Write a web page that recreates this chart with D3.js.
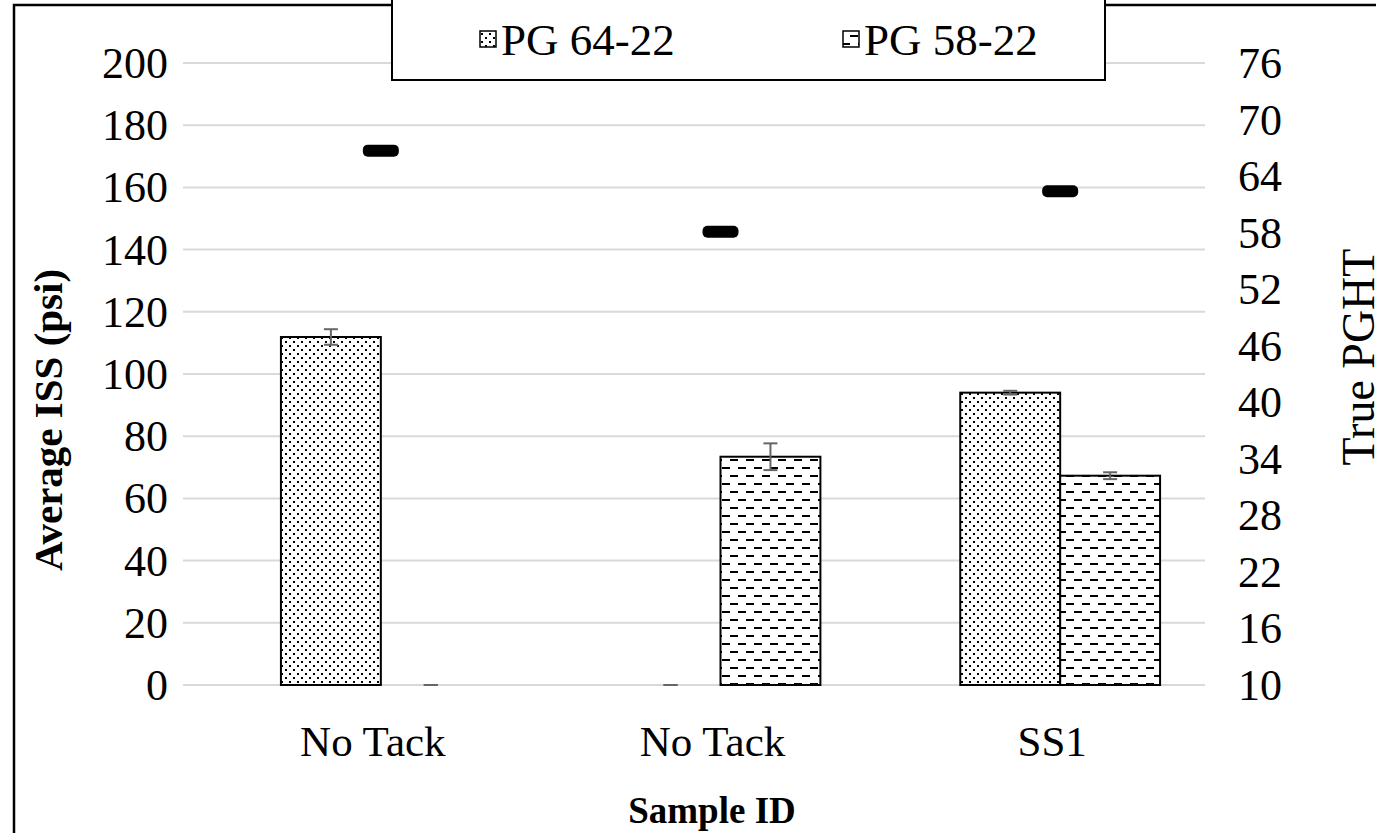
<!DOCTYPE html>
<html>
<head>
<meta charset="utf-8">
<script src="https://cdn.jsdelivr.net/npm/d3@7"></script>
<style>
  html, body { margin: 0; padding: 0; background: #fff; }
  svg { display: block; font-family: "Liberation Serif", "Times New Roman", serif; }
</style>
</head>
<body>
<svg id="chart" width="1376" height="833"></svg>
<script>
// Sample categories and the two binder series (ISS, psi)
const categories = ["No Tack", "No Tack", "SS1"];
const seriesNames = ["PG 64-22", "PG 58-22"];
const pg6422 = [111.9, 0, 94.0];
const pg5822 = [0, 73.4, 67.3];
const pg6422Err = [2.5, 0, 0.6];
const pg5822Err = [0, 4.3, 1.1];
// True PGHT (secondary axis)
const truePGHT = [66.7, 58.1, 62.4];
// Axis ticks
const leftTicks = [0, 20, 40, 60, 80, 100, 120, 140, 160, 180, 200];
const rightTicks = [10, 16, 22, 28, 34, 40, 46, 52, 58, 64, 70, 76];

const svg = d3.select("#chart");
const W = 1376, H = 833;
const plot = { left: 183, right: 1205, top: 63, bottom: 685 };
const serif = "Liberation Serif";

// patterns: dotted fill and dashed-horizontal fill
const defs = svg.append("defs");
const dots = defs.append("pattern").attr("id", "dots").attr("patternUnits", "userSpaceOnUse")
  .attr("width", 8).attr("height", 8);
dots.append("rect").attr("width", 8).attr("height", 8).attr("fill", "#fff");
dots.append("rect").attr("x", 1).attr("y", 1).attr("width", 2).attr("height", 2).attr("fill", "#000");
dots.append("rect").attr("x", 5).attr("y", 5).attr("width", 2).attr("height", 2).attr("fill", "#000");

const dashes = defs.append("pattern").attr("id", "dashes").attr("patternUnits", "userSpaceOnUse")
  .attr("width", 16).attr("height", 16);
dashes.append("rect").attr("width", 16).attr("height", 16).attr("fill", "#fff");
dashes.append("rect").attr("x", 2).attr("y", 3).attr("width", 8).attr("height", 2).attr("fill", "#000");
dashes.append("rect").attr("x", 10).attr("y", 11).attr("width", 8).attr("height", 2).attr("fill", "#000");
dashes.append("rect").attr("x", -6).attr("y", 11).attr("width", 8).attr("height", 2).attr("fill", "#000");

const fills = ["url(#dots)", "url(#dashes)"];

// scales
const y = d3.scaleLinear().domain([0, 200]).range([plot.bottom, plot.top]);
const y2 = d3.scaleLinear().domain([10, 76]).range([plot.bottom, plot.top]);
const x = d3.scaleBand().domain(d3.range(categories.length)).range([211, 1230]);
const xs = d3.scaleBand().domain(d3.range(seriesNames.length))
  .range([0, x.bandwidth()]).paddingOuter(0.7);

// outer frame
svg.append("rect").attr("x", 14).attr("y", 5).attr("width", W + 10).attr("height", H + 10)
  .attr("fill", "none").attr("stroke", "#000").attr("stroke-width", 2.5);

// gridlines
svg.append("g").selectAll("line").data(leftTicks).join("line")
  .attr("x1", plot.left).attr("x2", plot.right)
  .attr("y1", d => y(d)).attr("y2", d => y(d))
  .attr("stroke", "#d9d9d9").attr("stroke-width", 2);

// left axis labels
const leftAxis = d3.axisLeft(y).tickValues(leftTicks).tickSize(0).tickPadding(0);
const gl = svg.append("g").attr("transform", `translate(168,0)`).call(leftAxis);
gl.attr("font-family", serif).attr("font-size", 44);
gl.select(".domain").remove();
gl.selectAll("text").attr("fill", "#000").attr("dy", "0.33em");

// right axis labels
const rightAxis = d3.axisRight(y2).tickValues(rightTicks).tickSize(0).tickPadding(0);
const gr = svg.append("g").attr("transform", `translate(1238,0)`).call(rightAxis);
gr.attr("font-family", serif).attr("font-size", 44);
gr.select(".domain").remove();
gr.selectAll("text").attr("fill", "#000").attr("dy", "0.33em");

// bars
const seriesVals = [pg6422, pg5822];
const seriesErr = [pg6422Err, pg5822Err];
const barsG = svg.append("g");
seriesVals.forEach((vals, s) => {
  barsG.append("g").selectAll("rect").data(vals.map((v, i) => ({ v, i }))).join("rect")
    .filter(d => d.v > 0)
    .attr("x", d => x(d.i) + xs(s))
    .attr("width", xs.bandwidth())
    .attr("y", d => y(d.v))
    .attr("height", d => y(0) - y(d.v))
    .attr("fill", fills[s])
    .attr("stroke", "#000").attr("stroke-width", 2);
});

// error bars
const errG = svg.append("g").attr("stroke", "#666").attr("stroke-width", 2);
seriesVals.forEach((vals, s) => {
  vals.forEach((v, i) => {
    const cx = x(i) + xs(s) + xs.bandwidth() / 2;
    const e = seriesErr[s][i];
    const top = y(v + e), bot = y(v - e < 0 ? v : v - e);
    errG.append("line").attr("x1", cx).attr("x2", cx).attr("y1", top).attr("y2", bot);
    errG.append("line").attr("x1", cx - 7).attr("x2", cx + 7).attr("y1", top).attr("y2", top);
    errG.append("line").attr("x1", cx - 7).attr("x2", cx + 7).attr("y1", bot).attr("y2", bot);
  });
});

// True PGHT markers
svg.append("g").selectAll("rect").data(truePGHT).join("rect")
  .attr("x", (d, i) => x(i) + x.bandwidth() / 2 - 18)
  .attr("y", d => y2(d) - 6)
  .attr("width", 36).attr("height", 12).attr("rx", 5)
  .attr("fill", "#000");

// category labels
svg.append("g").selectAll("text").data(categories).join("text")
  .attr("x", (d, i) => x(i) + x.bandwidth() / 2 - 8)
  .attr("y", 756)
  .attr("text-anchor", "middle")
  .attr("font-size", 43)
  .text(d => d);

// axis titles
svg.append("text").attr("x", 712).attr("y", 823).attr("text-anchor", "middle")
  .attr("font-size", 37).attr("font-weight", "bold").text("Sample ID");
svg.append("text").attr("transform", "translate(62,420) rotate(-90)").attr("text-anchor", "middle")
  .attr("font-size", 41).attr("font-weight", "bold").text("Average ISS (psi)");
svg.append("text").attr("transform", "translate(1374,357) rotate(-90)").attr("text-anchor", "middle")
  .attr("font-size", 46).text("True PGHT");

// legend
const lg = svg.append("g");
lg.append("rect").attr("x", 392).attr("y", -2).attr("width", 713).attr("height", 82)
  .attr("fill", "#fff").attr("stroke", "#000").attr("stroke-width", 2);
const legendX = [480, 843];
seriesNames.forEach((name, s) => {
  lg.append("rect").attr("x", legendX[s]).attr("y", 31).attr("width", 16).attr("height", 16)
    .attr("fill", fills[s]).attr("stroke", "#000").attr("stroke-width", 1.5);
  lg.append("text").attr("x", legendX[s] + 21).attr("y", 55).attr("font-size", 45).text(name);
});
</script>
</body>
</html>
